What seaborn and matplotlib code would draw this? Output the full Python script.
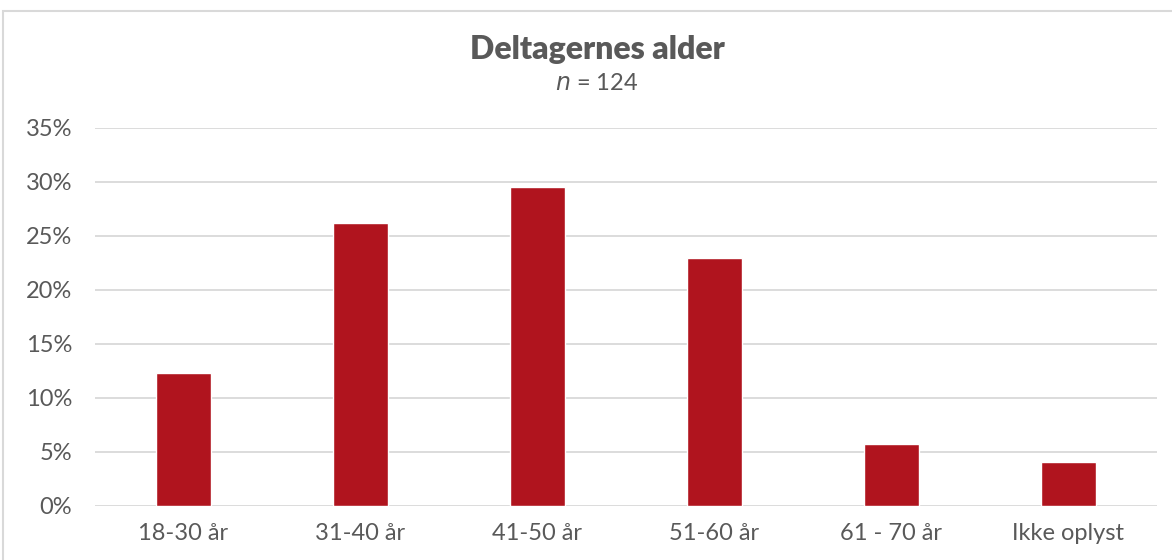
import matplotlib
matplotlib.use("Agg")
import matplotlib.pyplot as plt
import seaborn as sns
import pandas as pd
from matplotlib.patches import Rectangle
from matplotlib.ticker import FuncFormatter

# Data (share of participants)
age_groups = ['18-30 år', '31-40 år', '41-50 år', '51-60 år', '61 - 70 år', 'Ikke oplyst']
shares = [0.123, 0.262, 0.295, 0.230, 0.057, 0.041]
y_ticks = [0, 0.05, 0.10, 0.15, 0.20, 0.25, 0.30, 0.35]

bar_color = '#B0141E'
text_color = '#595959'
grid_color = '#D9D9D9'

sns.set_theme(style='white')
plt.rcParams['font.family'] = ['Lato', 'DejaVu Sans']

df = pd.DataFrame({'Alder': age_groups, 'Andel': shares})

fig = plt.figure(figsize=(11.72, 5.6), dpi=100)
ax = fig.add_axes([95 / 1172, 1 - 506 / 560, 1062 / 1172, 378 / 560])

sns.barplot(data=df, x='Alder', y='Andel', color=bar_color, width=0.315,
            saturation=1, ax=ax, zorder=3)

ax.set_ylim(0, 0.35)
ax.set_yticks(y_ticks)
ax.yaxis.set_major_formatter(FuncFormatter(lambda v, _: f'{v * 100:.0f}%'))
ax.set_xlabel('')
ax.set_ylabel('')
ax.grid(axis='y', color=grid_color, linewidth=1.3, zorder=0)
ax.grid(axis='x', visible=False)
for side in ['top', 'right', 'left', 'bottom']:
    ax.spines[side].set_visible(False)
ax.tick_params(axis='both', length=0, labelsize=17, labelcolor=text_color)
ax.tick_params(axis='y', pad=16.5)
ax.tick_params(axis='x', pad=12)

# chart frame
fig.patches.append(Rectangle((3 / 1172, -0.05), 1.05, 1 - 11 / 560 + 0.05,
                             transform=fig.transFigure, fill=False,
                             edgecolor=grid_color, linewidth=1.5))

title_x = 597 / 1172
fig.text(title_x, 1 - 49 / 560, 'Deltagernes alder', ha='center', va='center',
         fontsize=23, fontweight='heavy', color=text_color)
fig.text(title_x, 1 - 83 / 560, r'$\it{n}$ = 124', ha='center', va='center',
         fontsize=17, color=text_color)

plt.savefig('out.png', dpi=100)
